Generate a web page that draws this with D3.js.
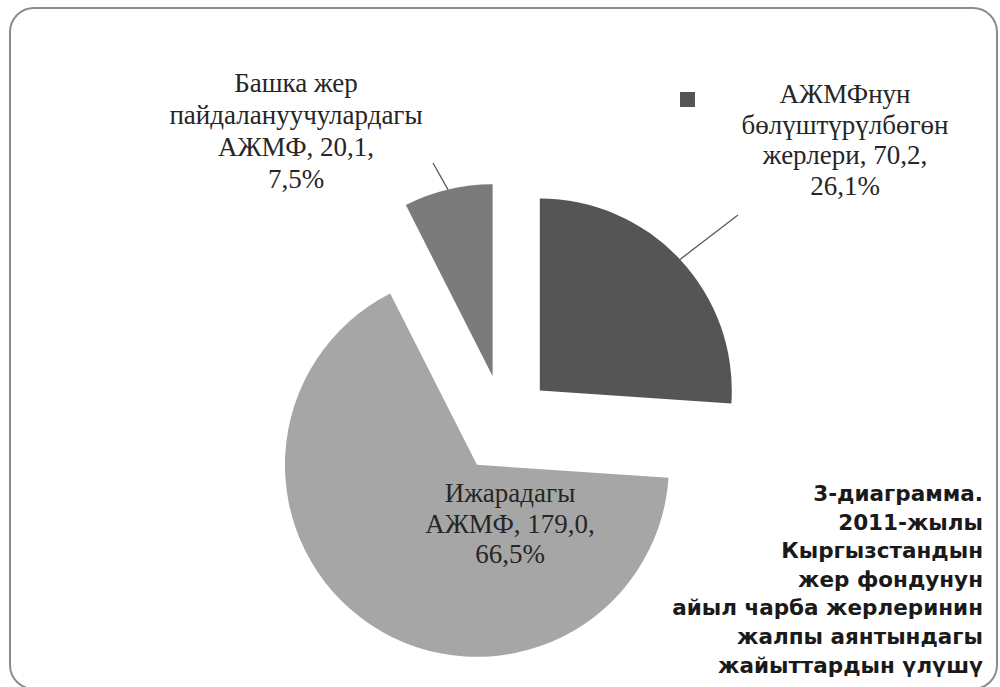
<!DOCTYPE html>
<html><head><meta charset="utf-8">
<script src="https://cdn.jsdelivr.net/npm/d3@7"></script>
<style>html,body{margin:0;padding:0;background:#fff;}svg{display:block;}
.lbl{font-family:"Liberation Serif","Times New Roman","DejaVu Serif",serif;}
.ttl{font-family:"DejaVu Sans",Verdana,sans-serif;font-weight:bold;}
</style>
</head><body>
<svg id="chart" width="1000" height="687"></svg>
<script>
// ---- data ----
const categories = ["АЖМФнун бөлүштүрүлбөгөн жерлери", "Ижарадагы АЖМФ", "Башка жер пайдалануучулардагы АЖМФ"];
const values = [70.2, 179.0, 20.1];
const percents = ["26,1%", "66,5%", "7,5%"];
const valueLabels = ["70,2", "179,0", "20,1"];
const labelLines = [
  ["АЖМФнун", "бөлүштүрүлбөгөн", "жерлери, 70,2,", "26,1%"],
  ["Ижарадагы", "АЖМФ, 179,0,", "66,5%"],
  ["Башка жер", "пайдалануучулардагы", "АЖМФ, 20,1,", "7,5%"]
];
const titleLines = ["3-диаграмма.", "2011-жылы", "Кыргызстандын", "жер фондунун", "айыл чарба жерлеринин", "жалпы аянтындагы", "жайыттардын үлүшү"];

// ---- layout ----
const colors = ["#555555", "#a6a6a6", "#7b7b7b"];
const cx = 504, cy = 424, R = 192, explode = 49;
const labelPos = [
  {x: 845, y: 103, dy: 30.5},
  {x: 510, y: 502, dy: 30.5},
  {x: 296, y: 92, dy: 32}
];
const leaderEnd = [[738, 215], null, [433, 163]];

const svg = d3.select("#chart");

svg.append("rect").attr("x", 10).attr("y", 8).attr("width", 987).attr("height", 681)
  .attr("rx", 24).attr("fill", "#fff").attr("stroke", "#8c8c8c").attr("stroke-width", 2);

const pie = d3.pie().sort(null).value(d => d)(values);
const arc = d3.arc().innerRadius(0).outerRadius(R);
const g = svg.append("g").attr("transform", `translate(${cx},${cy})`);

pie.forEach((p, i) => {
  const mid = (p.startAngle + p.endAngle) / 2;
  const ox = Math.sin(mid) * explode, oy = -Math.cos(mid) * explode;
  g.append("path").attr("d", arc(p)).attr("fill", colors[i])
    .attr("transform", `translate(${ox},${oy})`);
  if (leaderEnd[i]) {
    const ax = cx + ox + Math.sin(mid) * R, ay = cy + oy - Math.cos(mid) * R;
    svg.append("line").attr("x1", ax).attr("y1", ay)
      .attr("x2", leaderEnd[i][0]).attr("y2", leaderEnd[i][1])
      .attr("stroke", "#595959").attr("stroke-width", 1.3);
  }
});

// data labels
labelLines.forEach((lines, i) => {
  const t = svg.append("text").attr("class", "lbl").attr("text-anchor", "middle")
    .attr("font-size", 27).attr("fill", "#262626");
  lines.forEach((l, j) => {
    t.append("tspan").attr("x", labelPos[i].x).attr("y", labelPos[i].y + j * labelPos[i].dy).text(l);
  });
});

// legend key marker next to first label
svg.append("rect").attr("x", 680).attr("y", 92).attr("width", 15).attr("height", 15).attr("fill", colors[0]);

// title
const tt = svg.append("text").attr("class", "ttl").attr("text-anchor", "end")
  .attr("font-size", 21.5).attr("fill", "#1a1a1a");
titleLines.forEach((l, j) => {
  tt.append("tspan").attr("x", 983).attr("y", 501 + j * 28.6).text(l);
});
</script>
</body></html>
